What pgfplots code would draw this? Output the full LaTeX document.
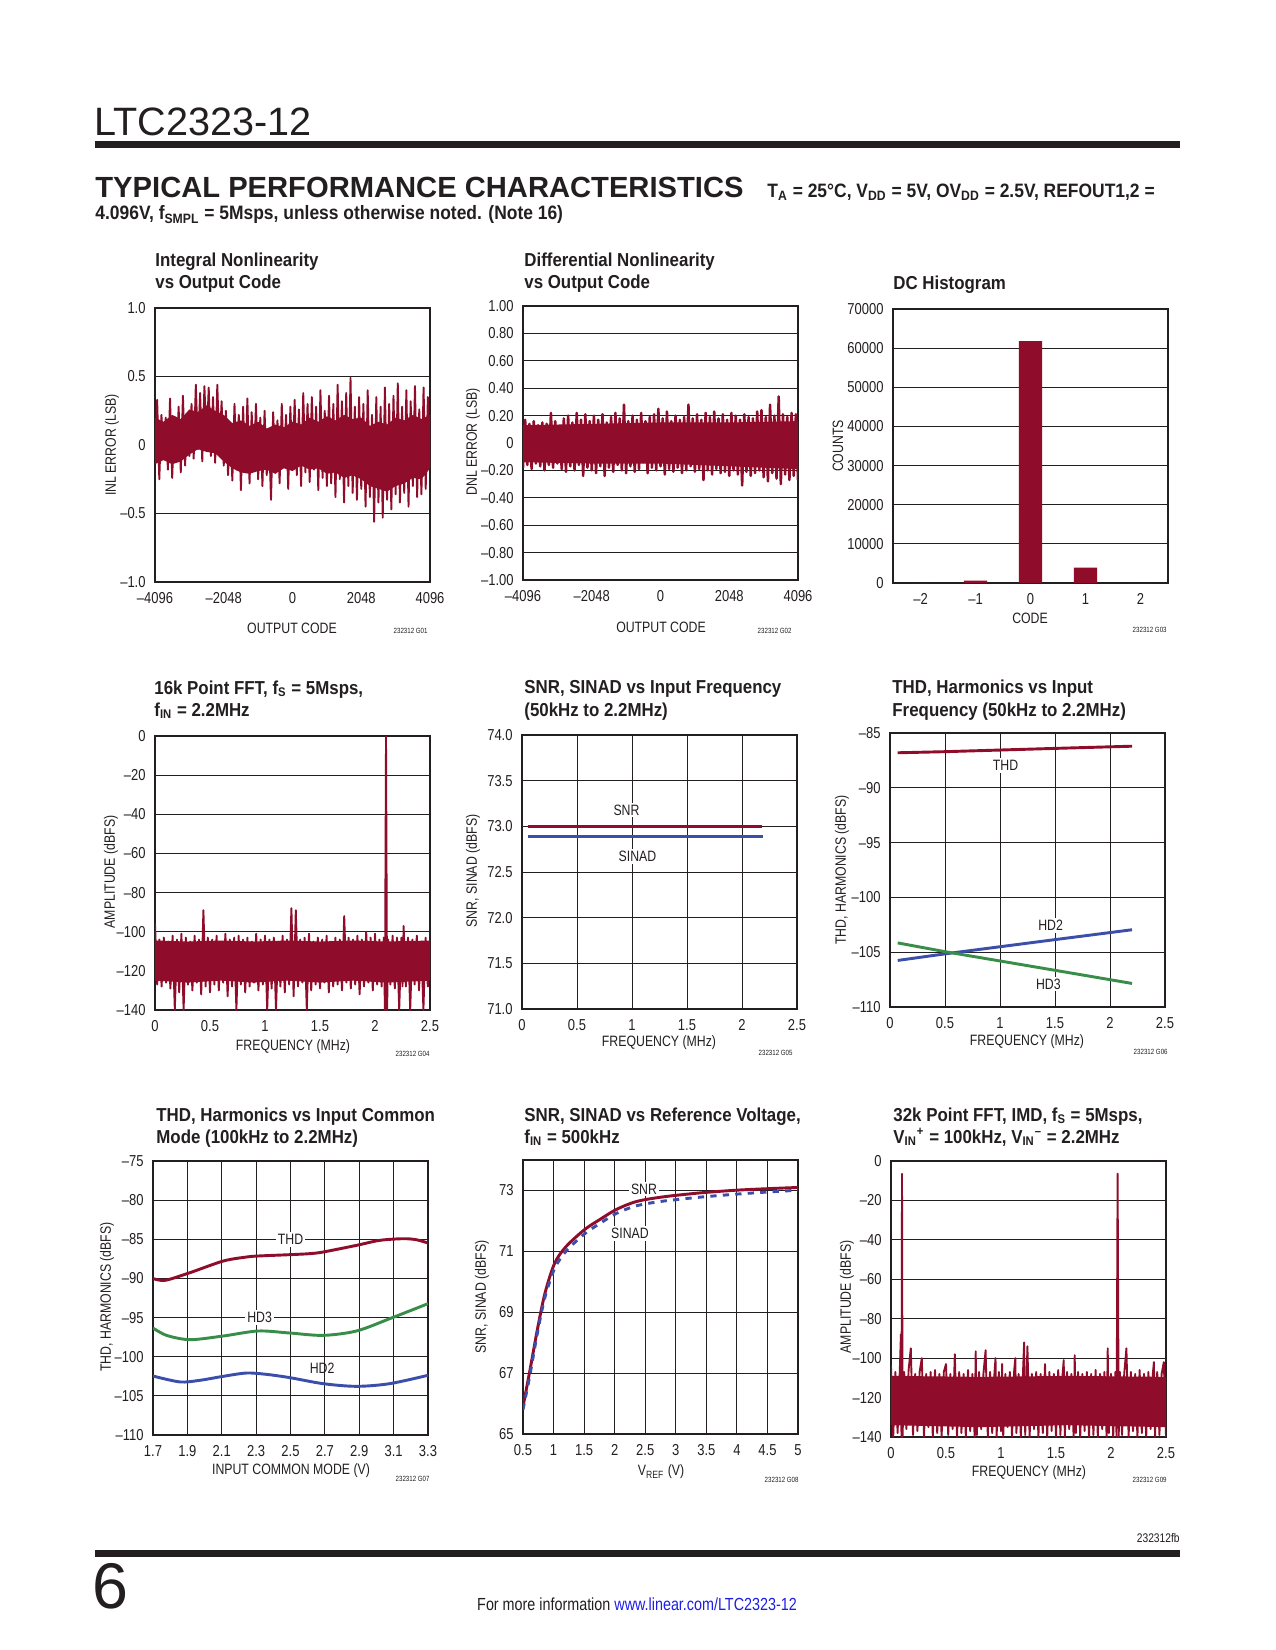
\documentclass[border=0pt]{standalone}
\usepackage{pgfplots}
\pgfplotsset{compat=1.18}
\usepackage{fontspec}
\setmainfont{Liberation Sans}[FakeStretch=0.82]
\newfontfamily\tfam{Liberation Sans}[FakeStretch=0.9]
\newfontfamily\pfam{Liberation Sans}
\newfontfamily\hfam{Liberation Sans}[FakeStretch=1.0]
\newcommand\ttlf{\tfam\bfseries\fontsize{9}{11}\selectfont}
\newcommand\labf{\fontsize{7.2}{9}\selectfont}
\newcommand\tickf{\fontsize{7.6}{9}\selectfont}
\newcommand\gf{\fontsize{3.6}{4}\selectfont}
\definecolor{ltred}{RGB}{143,12,42}
\definecolor{ltblue}{RGB}{58,78,170}
\definecolor{ltgreen}{RGB}{56,142,72}
\definecolor{txt}{RGB}{35,31,32}
\definecolor{link}{RGB}{30,30,230}
\pgfplotsset{
 dsaxis/.style={scale only axis, width=132pt, height=131.5pt, anchor=south west,
  axis line style={line width=0.7pt, color=txt},
  major tick length=0pt, tick style={draw=none},
  major grid style={line width=0.45pt, color=txt},
  tick label style={font=\tickf, text=txt},
  /pgf/number format/assume math mode=true,
  xticklabel style={yshift=-1.5pt}, yticklabel style={xshift=-1pt},
  scaled x ticks=false, scaled y ticks=false},
}
\tikzset{
 ttl/.style={anchor=base west, inner sep=0pt, font=\ttlf, text=txt},
 lab/.style={inner sep=0pt, font=\labf, text=txt},
 gnum/.style={anchor=base east, inner sep=0pt, font=\gf, text=txt},
 clab/.style={fill=white, inner sep=1pt, font=\labf, text=txt},
}
\begin{document}
\begin{tikzpicture}
\begin{scope}[x=0.48pt, y=-0.48pt]
\path[use as bounding box, fill=white] (0,0) rectangle (1275,1650);
% header
\node[anchor=base west, inner sep=0pt, font=\pfam\fontsize{19}{22}\selectfont, text=txt] at (94,136) {LTC2323-12};
\fill[txt] (95,141) rectangle (1180,148);
\node[anchor=base west, inner sep=0pt, font=\hfam\bfseries\fontsize{14}{16}\selectfont, text=txt] at (95,198) {TYPICAL PERFORMANCE CHARACTERISTICS};
\node[anchor=base west, inner sep=0pt, font=\tfam\bfseries\fontsize{9.3}{11}\selectfont, text=txt] at (767,198) {T\textsubscript{A} = 25°C, V\textsubscript{DD} = 5V, OV\textsubscript{DD} = 2.5V, REFOUT1,2 =};
\node[anchor=base west, inner sep=0pt, font=\tfam\bfseries\fontsize{9.3}{11}\selectfont, text=txt] at (95,220) {4.096V, f\textsubscript{SMPL} = 5Msps, unless otherwise noted. (Note 16)};
% footer
\node[anchor=base east, inner sep=0pt, font=\fontsize{6}{7}\selectfont, text=txt] at (1180,1542) {232312fb};
\fill[txt] (95,1550) rectangle (1180,1557);
\node[anchor=base west, inner sep=0pt, font=\pfam\fontsize{31}{34}\selectfont, text=txt] at (92,1608) {6};
\node[anchor=base, inner sep=0pt, font=\fontsize{8.4}{10}\selectfont, text=txt] at (637,1610) {For more information \textcolor{link}{www.linear.com/LTC2323-12}};
% titles
\node[ttl] at (155,267) {Integral Nonlinearity};
\node[ttl] at (155,289) {vs Output Code};
\node[ttl] at (524,267) {Differential Nonlinearity};
\node[ttl] at (524,289) {vs Output Code};
\node[ttl] at (893,290) {DC Histogram};
\node[ttl] at (154,694) {16k Point FFT, f\textsubscript{S} = 5Msps,};
\node[ttl] at (154,716) {f\textsubscript{IN} = 2.2MHz};
\node[ttl] at (524,693) {SNR, SINAD vs Input Frequency};
\node[ttl] at (524,716) {(50kHz to 2.2MHz)};
\node[ttl] at (892,693) {THD, Harmonics vs Input};
\node[ttl] at (892,716) {Frequency (50kHz to 2.2MHz)};
\node[ttl] at (156,1121) {THD, Harmonics vs Input Common};
\node[ttl] at (156,1143) {Mode (100kHz to 2.2MHz)};
\node[ttl] at (524,1121) {SNR, SINAD vs Reference Voltage,};
\node[ttl] at (524,1143) {f\textsubscript{IN} = 500kHz};
\node[ttl] at (893,1121) {32k Point FFT, IMD, f\textsubscript{S} = 5Msps,};
\node[ttl] at (893,1143) {V\textsubscript{IN}\textsuperscript{+} = 100kHz, V\textsubscript{IN}\textsuperscript{–} = 2.2MHz};
% axis labels
\node[lab] at (292,628) {OUTPUT CODE};
\node[lab, rotate=90] at (112,445) {INL ERROR (LSB)};
\node[gnum] at (428,633) {232312 G01};
\node[lab] at (661,627) {OUTPUT CODE};
\node[lab, rotate=90] at (473,442) {DNL ERROR (LSB)};
\node[gnum] at (792,633) {232312 G02};
\node[lab] at (1030,618) {CODE};
\node[lab, rotate=90] at (838,446) {COUNTS};
\node[gnum] at (1167,632) {232312 G03};
\node[lab] at (293,1047) {FREQUENCY (MHz)};
\node[lab, rotate=90] at (111,872) {AMPLITUDE (dBFS)};
\node[gnum] at (430,1056) {232312 G04};
\node[lab] at (659,1043) {FREQUENCY (MHz)};
\node[lab, rotate=90] at (473,871) {SNR, SINAD (dBFS)};
\node[gnum] at (793,1055) {232312 G05};
\node[lab] at (1027,1042) {FREQUENCY (MHz)};
\node[lab, rotate=90] at (842,870) {THD, HARMONICS (dBFS)};
\node[gnum] at (1168,1054) {232312 G06};
\node[lab] at (291,1471) {INPUT COMMON MODE (V)};
\node[lab, rotate=90] at (107,1297) {THD, HARMONICS (dBFS)};
\node[gnum] at (430,1481) {232312 G07};
\node[lab] at (661,1472) {V\textsubscript{REF} (V)};
\node[lab, rotate=90] at (482,1297) {SNR, SINAD (dBFS)};
\node[gnum] at (799,1482) {232312 G08};
\node[lab] at (1029,1473) {FREQUENCY (MHz)};
\node[lab, rotate=90] at (847,1297) {AMPLITUDE (dBFS)};
\node[gnum] at (1167,1482) {232312 G09};
\end{scope}

% ---------- G01 INL ----------
\begin{axis}[dsaxis, at={(155*0.48pt,-582*0.48pt)},
 xmin=-4096, xmax=4096, ymin=-1, ymax=1,
 xtick={-4096,-2048,0,2048,4096}, xticklabels={–4096,–2048,0,2048,4096},
 ytick={-1,-0.5,0,0.5,1}, yticklabels={–1.0,–0.5,0,0.5,1.0}, ymajorgrids]
\addplot[fill=ltred, draw=none] coordinates {(-4096,0.2) (-3840,0.17) (-3584,0.22) (-3328,0.19) (-3072,0.26) (-2816,0.24) (-2560,0.29) (-2304,0.25) (-2048,0.22) (-1792,0.16) (-1536,0.18) (-1280,0.14) (-1024,0.17) (-768,0.12) (-512,0.15) (-256,0.13) (0,0.17) (256,0.15) (512,0.2) (768,0.17) (1024,0.21) (1280,0.18) (1536,0.22) (1792,0.19) (2048,0.2) (2304,0.14) (2560,0.17) (2816,0.15) (3072,0.2) (3328,0.18) (3584,0.22) (3840,0.19) (4096,0.22)
 (4096,-0.17) (3840,-0.25) (3584,-0.24) (3328,-0.28) (3072,-0.3) (2816,-0.34) (2560,-0.32) (2304,-0.3) (2048,-0.25) (1792,-0.22) (1536,-0.24) (1280,-0.2) (1024,-0.21) (768,-0.17) (512,-0.18) (256,-0.15) (0,-0.19) (-256,-0.17) (-512,-0.21) (-768,-0.18) (-1024,-0.19) (-1280,-0.21) (-1536,-0.2) (-1792,-0.17) (-2048,-0.12) (-2304,-0.06) (-2560,-0.05) (-2816,-0.03) (-3072,-0.07) (-3328,-0.12) (-3584,-0.14) (-3840,-0.11) (-4096,-0.14)};
\addplot[ltred, line width=0.9pt, line join=round] table[row sep=\\]{x y\\
-4096 -0.12\\ -4032 0.33\\ -3968 -0.25\\ -3904 0.22\\ -3840 -0.10\\ -3776 0.20\\ -3712 -0.18\\ -3648 0.34\\
-3584 -0.24\\ -3520 0.18\\ -3456 -0.12\\ -3392 0.28\\ -3328 -0.20\\ -3264 0.36\\ -3200 -0.15\\ -3136 0.22\\
-3072 -0.08\\ -3008 0.30\\ -2944 -0.10\\ -2880 0.44\\ -2816 -0.03\\ -2752 0.38\\ -2688 -0.12\\ -2624 0.43\\
-2560 0.00\\ -2496 0.42\\ -2432 -0.08\\ -2368 0.35\\ -2304 -0.13\\ -2240 0.44\\ -2176 -0.05\\ -2112 0.32\\
-2048 -0.15\\ -1984 0.25\\ -1920 -0.22\\ -1856 0.15\\ -1792 -0.26\\ -1728 0.30\\ -1664 -0.18\\ -1600 0.22\\
-1536 -0.33\\ -1472 0.28\\ -1408 -0.20\\ -1344 0.34\\ -1280 -0.28\\ -1216 0.24\\ -1152 -0.17\\ -1088 0.30\\
-1024 -0.25\\ -960 0.20\\ -896 -0.30\\ -832 0.25\\ -768 -0.22\\ -704 0.10\\ -640 -0.40\\ -576 0.24\\
-512 -0.20\\ -448 0.18\\ -384 -0.28\\ -320 0.30\\ -256 -0.15\\ -192 0.22\\ -128 -0.32\\ -64 0.28\\
0 -0.18\\ 64 0.33\\ 128 -0.22\\ 192 0.26\\ 256 -0.30\\ 320 0.38\\ 384 -0.20\\ 448 0.30\\
512 -0.27\\ 576 0.35\\ 640 -0.18\\ 704 0.28\\ 768 -0.33\\ 832 0.40\\ 896 -0.24\\ 960 0.25\\
1024 -0.30\\ 1088 0.36\\ 1152 -0.28\\ 1216 0.30\\ 1280 -0.38\\ 1344 0.44\\ 1408 -0.25\\ 1472 0.32\\
1536 -0.42\\ 1600 0.38\\ 1664 -0.30\\ 1728 0.49\\ 1792 -0.35\\ 1856 0.28\\ 1920 -0.40\\ 1984 0.35\\
2048 -0.32\\ 2112 0.30\\ 2176 -0.45\\ 2240 0.40\\ 2304 -0.38\\ 2368 0.22\\ 2432 -0.56\\ 2496 0.35\\
2560 -0.42\\ 2624 0.28\\ 2688 -0.53\\ 2752 0.42\\ 2816 -0.40\\ 2880 0.30\\ 2944 -0.47\\ 3008 0.36\\
3072 -0.36\\ 3136 0.45\\ 3200 -0.42\\ 3264 0.28\\ 3328 -0.35\\ 3392 0.40\\ 3456 -0.45\\ 3520 0.32\\
3584 -0.30\\ 3648 0.43\\ 3712 -0.38\\ 3776 0.26\\ 3840 -0.36\\ 3904 0.42\\ 3968 -0.32\\ 4032 0.35\\
4096 -0.10\\};
\end{axis}

% ---------- G02 DNL ----------
\begin{axis}[dsaxis, at={(523*0.48pt,-580*0.48pt)},
 xmin=-4096, xmax=4096, ymin=-1, ymax=1,
 xtick={-4096,-2048,0,2048,4096}, xticklabels={–4096,–2048,0,2048,4096},
 ytick={-1,-0.8,-0.6,-0.4,-0.2,0,0.2,0.4,0.6,0.8,1},
 yticklabels={–1.00,–0.80,–0.60,–0.40,–0.20,0,0.20,0.40,0.60,0.80,1.00}, ymajorgrids]
\addplot[fill=ltred, draw=none] coordinates {(-4096,0.13) (-2048,0.14) (0,0.15) (2048,0.15) (4096,0.16) (4096,-0.19) (3072,-0.18) (2048,-0.17) (0,-0.15) (-2048,-0.15) (-4096,-0.14)};
\addplot[ltred, line width=1.2pt, line join=round] table[row sep=\\]{x y\\
-4096 -0.18\\ -4032 0.17\\ -3968 -0.16\\ -3904 0.14\\ -3840 -0.19\\ -3776 0.16\\ -3712 -0.15\\ -3648 0.13\\
-3584 -0.17\\ -3520 0.15\\ -3456 -0.20\\ -3392 0.14\\ -3328 -0.16\\ -3264 0.22\\ -3200 -0.18\\ -3136 0.16\\
-3072 -0.15\\ -3008 0.12\\ -2944 -0.19\\ -2880 0.18\\ -2816 -0.21\\ -2752 0.20\\ -2688 -0.17\\ -2624 0.15\\
-2560 -0.20\\ -2496 0.22\\ -2432 -0.16\\ -2368 0.17\\ -2304 -0.24\\ -2240 0.21\\ -2176 -0.18\\ -2112 0.16\\
-2048 -0.20\\ -1984 0.20\\ -1920 -0.22\\ -1856 0.17\\ -1792 -0.17\\ -1728 0.21\\ -1664 -0.24\\ -1600 0.15\\
-1536 -0.18\\ -1472 0.19\\ -1408 -0.21\\ -1344 0.22\\ -1280 -0.16\\ -1216 0.18\\ -1152 -0.20\\ -1088 0.28\\
-1024 -0.22\\ -960 0.16\\ -896 -0.17\\ -832 0.20\\ -768 -0.21\\ -704 0.17\\ -640 -0.19\\ -576 0.22\\
-512 -0.14\\ -448 0.16\\ -384 -0.22\\ -320 0.19\\ -256 -0.18\\ -192 0.21\\ -128 -0.20\\ -64 0.25\\
0 -0.17\\ 64 0.18\\ 128 -0.23\\ 192 0.23\\ 256 -0.19\\ 320 0.16\\ 384 -0.21\\ 448 0.20\\
512 -0.18\\ 576 0.17\\ 640 -0.22\\ 704 0.19\\ 768 -0.20\\ 832 0.28\\ 896 -0.17\\ 960 0.18\\
1024 -0.21\\ 1088 0.21\\ 1152 -0.19\\ 1216 0.17\\ 1280 -0.27\\ 1344 0.22\\ 1408 -0.20\\ 1472 0.19\\
1536 -0.23\\ 1600 0.23\\ 1664 -0.19\\ 1728 0.18\\ 1792 -0.22\\ 1856 0.21\\ 1920 -0.21\\ 1984 0.17\\
2048 -0.24\\ 2112 0.22\\ 2176 -0.20\\ 2240 0.20\\ 2304 -0.23\\ 2368 0.17\\ 2432 -0.31\\ 2496 0.21\\
2560 -0.21\\ 2624 0.19\\ 2688 -0.24\\ 2752 0.18\\ 2816 -0.22\\ 2880 0.23\\ 2944 -0.20\\ 3008 0.24\\
3072 -0.25\\ 3136 0.19\\ 3200 -0.28\\ 3264 0.28\\ 3328 -0.22\\ 3392 0.20\\ 3456 -0.26\\ 3520 0.34\\
3584 -0.30\\ 3648 0.21\\ 3712 -0.23\\ 3776 0.19\\ 3840 -0.27\\ 3904 0.22\\ 3968 -0.24\\ 4032 0.21\\
4096 -0.27\\};
\end{axis}

% ---------- G03 histogram ----------
\begin{axis}[dsaxis, at={(893*0.48pt,-583*0.48pt)}, axis line style={line width=1pt, color=txt},
 xmin=-2.5, xmax=2.5, ymin=0, ymax=70000,
 xtick={-2,-1,0,1,2}, xticklabels={–2,–1,0,1,2},
 ytick={0,10000,20000,30000,40000,50000,60000,70000},
 yticklabels={0,10000,20000,30000,40000,50000,60000,70000}, ymajorgrids]
\addplot[ybar, bar width=0.42, fill=ltred, draw=none] coordinates {(-2,0) (-1,600) (0,61800) (1,3900) (2,0)};
\end{axis}

% ---------- G04 FFT 16k ----------
\begin{axis}[dsaxis, at={(155*0.48pt,-1010*0.48pt)},
 xmin=0, xmax=2.5, ymin=-140, ymax=0,
 xtick={0,0.5,1,1.5,2,2.5}, xticklabels={0,0.5,1,1.5,2,2.5},
 ytick={-140,-120,-100,-80,-60,-40,-20,0}, yticklabels={–140,–120,–100,–80,–60,–40,–20,0}, ymajorgrids]
\addplot[fill=ltred, draw=none] coordinates {(0,-104.5) (0.3,-105) (0.6,-104.5) (0.9,-105) (1.2,-104.5) (1.5,-105) (1.8,-104.5) (2.1,-105) (2.5,-104.5) (2.5,-125) (2.1,-126) (1.8,-125) (1.5,-126) (1.2,-125) (0.9,-126) (0.6,-125) (0.3,-126) (0,-125)};
\addplot[ltred, line width=0.9pt, line join=round] table[row sep=\\]{x y\\
0.00 -96\\ 0.02 -127\\ 0.04 -104\\ 0.06 -128\\ 0.08 -103\\ 0.10 -126\\ 0.12 -105\\ 0.14 -129\\
0.16 -102\\ 0.18 -140\\ 0.20 -104\\ 0.22 -131\\ 0.24 -101\\ 0.26 -140\\ 0.28 -103\\ 0.30 -127\\
0.32 -105\\ 0.34 -130\\ 0.36 -102\\ 0.38 -126\\ 0.40 -104\\ 0.42 -132\\ 0.44 -89\\ 0.46 -128\\
0.48 -103\\ 0.50 -131\\ 0.52 -104\\ 0.54 -127\\ 0.56 -102\\ 0.58 -130\\ 0.60 -105\\ 0.62 -126\\
0.64 -101\\ 0.66 -133\\ 0.68 -104\\ 0.70 -128\\ 0.72 -103\\ 0.74 -140\\ 0.76 -102\\ 0.78 -127\\
0.80 -104\\ 0.82 -131\\ 0.84 -103\\ 0.86 -128\\ 0.88 -105\\ 0.90 -126\\ 0.92 -101\\ 0.94 -130\\
0.96 -104\\ 0.98 -127\\ 1.00 -102\\ 1.02 -140\\ 1.04 -104\\ 1.06 -129\\ 1.08 -103\\ 1.10 -140\\
1.12 -105\\ 1.14 -128\\ 1.16 -102\\ 1.18 -131\\ 1.20 -104\\ 1.22 -127\\ 1.24 -88\\ 1.26 -133\\
1.28 -89\\ 1.30 -128\\ 1.32 -104\\ 1.34 -126\\ 1.36 -103\\ 1.38 -140\\ 1.40 -101\\ 1.42 -130\\
1.44 -105\\ 1.46 -127\\ 1.48 -103\\ 1.50 -129\\ 1.52 -104\\ 1.54 -126\\ 1.56 -102\\ 1.58 -131\\
1.60 -105\\ 1.62 -128\\ 1.64 -103\\ 1.66 -127\\ 1.68 -104\\ 1.70 -130\\ 1.72 -92\\ 1.74 -126\\
1.76 -103\\ 1.78 -129\\ 1.80 -104\\ 1.82 -127\\ 1.84 -102\\ 1.86 -132\\ 1.88 -104\\ 1.90 -128\\
1.92 -100\\ 1.94 -126\\ 1.96 -103\\ 1.98 -130\\ 2.00 -101\\ 2.02 -127\\ 2.04 -104\\ 2.06 -128\\
2.08 -103\\ 2.09 -140\\ 2.10 0\\ 2.11 -140\\ 2.12 -104\\ 2.14 -127\\ 2.16 -102\\ 2.18 -129\\
2.20 -103\\ 2.22 -140\\ 2.24 -103\\ 2.25 -128\\ 2.26 -97\\ 2.28 -128\\ 2.30 -103\\ 2.32 -140\\
2.34 -104\\ 2.36 -127\\ 2.38 -102\\ 2.40 -130\\ 2.42 -105\\ 2.44 -140\\ 2.46 -103\\ 2.48 -128\\
2.50 -104\\};
\end{axis}

% ---------- G05 SNR SINAD vs freq ----------
\begin{axis}[dsaxis, at={(522*0.48pt,-1009*0.48pt)},
 xmin=0, xmax=2.5, ymin=71, ymax=74,
 xtick={0,0.5,1,1.5,2,2.5}, xticklabels={0,0.5,1,1.5,2,2.5},
 ytick={71,71.5,72,72.5,73,73.5,74}, yticklabels={71.0,71.5,72.0,72.5,73.0,73.5,74.0},
 xmajorgrids, ymajorgrids]
\addplot[ltred, line width=1.4pt] coordinates {(0.05,73.0) (0.5,73.0) (1,73.0) (1.5,73.0) (2.18,73.0)};
\addplot[ltblue, line width=1.4pt] coordinates {(0.05,72.89) (0.5,72.89) (1,72.89) (1.5,72.89) (2.19,72.89)};
\node[clab] at (axis cs:0.95,73.18) {SNR};
\node[clab] at (axis cs:1.05,72.67) {SINAD};
\end{axis}

% ---------- G06 THD harmonics vs freq ----------
\begin{axis}[dsaxis, at={(890*0.48pt,-1007*0.48pt)},
 xmin=0, xmax=2.5, ymin=-110, ymax=-85,
 xtick={0,0.5,1,1.5,2,2.5}, xticklabels={0,0.5,1,1.5,2,2.5},
 ytick={-110,-105,-100,-95,-90,-85}, yticklabels={–110,–105,–100,–95,–90,–85},
 xmajorgrids, ymajorgrids]
\addplot[ltred, line width=1.4pt] coordinates {(0.07,-86.8) (0.5,-86.7) (1,-86.55) (1.5,-86.4) (2.2,-86.2)};
\addplot[ltblue, line width=1.4pt] coordinates {(0.07,-105.75) (0.5,-105.15) (1,-104.5) (1.5,-103.85) (2.2,-102.95)};
\addplot[ltgreen, line width=1.4pt] coordinates {(0.07,-104.15) (0.5,-104.95) (1,-105.8) (1.5,-106.65) (2.2,-107.85)};
\node[clab] at (axis cs:1.05,-87.94) {THD};
\node[clab] at (axis cs:1.46,-102.57) {HD2};
\node[clab] at (axis cs:1.44,-107.9) {HD3};
\end{axis}

% ---------- G07 THD vs common mode ----------
\begin{axis}[dsaxis, at={(153*0.48pt,-1435*0.48pt)},
 xmin=1.7, xmax=3.3, ymin=-110, ymax=-75,
 xtick={1.7,1.9,2.1,2.3,2.5,2.7,2.9,3.1,3.3}, xticklabels={1.7,1.9,2.1,2.3,2.5,2.7,2.9,3.1,3.3},
 ytick={-110,-105,-100,-95,-90,-85,-80,-75}, yticklabels={–110,–105,–100,–95,–90,–85,–80,–75},
 xmajorgrids, ymajorgrids]
\addplot[ltred, line width=1.4pt, smooth] coordinates {(1.7,-90.0) (1.77,-90.24) (1.915,-89.26) (2.109,-87.77) (2.244,-87.26) (2.312,-87.13) (2.496,-86.96) (2.612,-86.83) (2.69,-86.62) (2.884,-85.77) (3.019,-85.13) (3.155,-84.92) (3.232,-85.05) (3.3,-85.47)};
\addplot[ltgreen, line width=1.4pt, smooth] coordinates {(1.7,-96.33) (1.779,-97.27) (1.915,-97.82) (2.109,-97.35) (2.312,-96.71) (2.496,-96.97) (2.69,-97.27) (2.884,-96.71) (3.077,-95.14) (3.3,-93.22)};
\addplot[ltblue, line width=1.4pt, smooth] coordinates {(1.7,-102.46) (1.857,-103.22) (1.973,-103.01) (2.109,-102.5) (2.244,-102.08) (2.36,-102.25) (2.496,-102.67) (2.69,-103.44) (2.884,-103.78) (3.077,-103.44) (3.3,-102.37)};
\node[clab] at (axis cs:2.50,-85.0) {THD};
\node[clab] at (axis cs:2.32,-95.0) {HD3};
\node[lab] at (axis cs:2.684,-101.44) {HD2};
\end{axis}

% ---------- G08 SNR SINAD vs Vref ----------
\begin{axis}[dsaxis, at={(523*0.48pt,-1434*0.48pt)},
 xmin=0.5, xmax=5, ymin=65, ymax=74,
 xtick={0.5,1,1.5,2,2.5,3,3.5,4,4.5,5}, xticklabels={0.5,1,1.5,2,2.5,3,3.5,4,4.5,5},
 ytick={65,67,69,71,73}, yticklabels={65,67,69,71,73},
 xmajorgrids, ymajorgrids]
\addplot[ltred, line width=1.4pt, smooth] coordinates {(0.5,65.9) (0.614,67.1) (0.734,68.42) (0.86,69.63) (1.02,70.62) (1.21,71.17) (1.51,71.72) (1.76,72.05) (2.03,72.38) (2.36,72.64) (2.79,72.79) (3.39,72.92) (3.99,73.01) (4.5,73.06) (5.0,73.1)};
\addplot[ltblue, line width=1.4pt, dashed, smooth] coordinates {(0.5,65.8) (0.614,66.95) (0.734,68.3) (0.86,69.5) (1.02,70.45) (1.21,71.02) (1.51,71.58) (1.76,71.92) (2.03,72.25) (2.36,72.5) (2.79,72.65) (3.39,72.78) (3.99,72.88) (4.5,72.95) (5.0,73.01)};
\node[clab] at (axis cs:2.48,73.05) {SNR};
\node[clab] at (axis cs:2.25,71.6) {SINAD};
\end{axis}

% ---------- G09 FFT IMD ----------
\begin{axis}[dsaxis, at={(891*0.48pt,-1437*0.48pt)}, height=132.5pt,
 xmin=0, xmax=2.5, ymin=-140, ymax=0,
 xtick={0,0.5,1,1.5,2,2.5}, xticklabels={0,0.5,1,1.5,2,2.5},
 ytick={-140,-120,-100,-80,-60,-40,-20,0}, yticklabels={–140,–120,–100,–80,–60,–40,–20,0}, ymajorgrids]
\addplot[fill=ltred, draw=none] coordinates {(0,-109) (0.8,-109.5) (1.6,-109) (2.5,-109.5) (2.5,-135) (1.6,-134) (0.8,-135) (0,-134)};
\addplot[ltred, line width=0.9pt, line join=round] table[row sep=\\]{x y\\
0.00 -104\\ 0.02 -140\\ 0.04 -107\\ 0.06 -138\\ 0.08 -106\\ 0.09 -88\\ 0.095 -140\\ 0.10 -6.5\\
0.105 -140\\ 0.12 -107\\ 0.14 -136\\ 0.16 -106\\ 0.18 -95\\ 0.20 -139\\ 0.22 -108\\ 0.24 -137\\
0.26 -107\\ 0.28 -100\\ 0.30 -140\\ 0.32 -108\\ 0.34 -135\\ 0.36 -107\\ 0.38 -140\\ 0.40 -106\\
0.42 -138\\ 0.44 -108\\ 0.46 -140\\ 0.48 -107\\ 0.50 -103\\ 0.52 -139\\ 0.54 -108\\ 0.56 -136\\
0.58 -98\\ 0.60 -140\\ 0.62 -107\\ 0.64 -138\\ 0.66 -108\\ 0.68 -140\\ 0.70 -106\\ 0.72 -137\\
0.74 -108\\ 0.76 -140\\ 0.77 -96.5\\ 0.78 -139\\ 0.80 -107\\ 0.82 -136\\ 0.84 -108\\ 0.86 -96\\
0.88 -140\\ 0.90 -107\\ 0.92 -138\\ 0.94 -108\\ 0.95 -100\\ 0.96 -140\\ 0.98 -107\\ 1.00 -137\\
1.01 -103\\ 1.02 -140\\ 1.04 -108\\ 1.06 -135\\ 1.08 -107\\ 1.10 -140\\ 1.12 -106\\ 1.13 -100\\
1.14 -138\\ 1.16 -108\\ 1.18 -140\\ 1.20 -107\\ 1.21 -92\\ 1.22 -139\\ 1.24 -94\\ 1.26 -140\\
1.28 -108\\ 1.30 -136\\ 1.32 -107\\ 1.34 -140\\ 1.36 -108\\ 1.38 -138\\ 1.40 -103\\ 1.42 -140\\
1.44 -107\\ 1.46 -137\\ 1.48 -108\\ 1.50 -140\\ 1.52 -106\\ 1.54 -139\\ 1.56 -108\\ 1.57 -101\\
1.58 -140\\ 1.60 -107\\ 1.62 -136\\ 1.64 -108\\ 1.66 -140\\ 1.67 -98.5\\ 1.68 -138\\ 1.70 -107\\
1.72 -140\\ 1.74 -108\\ 1.76 -137\\ 1.78 -107\\ 1.80 -140\\ 1.82 -108\\ 1.84 -139\\ 1.86 -106\\
1.88 -140\\ 1.90 -108\\ 1.92 -136\\ 1.94 -107\\ 1.96 -140\\ 1.97 -95\\ 1.98 -138\\ 2.00 -108\\
2.02 -140\\ 2.04 -107\\ 2.05 -140\\ 2.06 -6.5\\ 2.07 -140\\ 2.08 -107\\ 2.10 -139\\ 2.12 -108\\
2.14 -95\\ 2.16 -140\\ 2.18 -107\\ 2.20 -137\\ 2.22 -108\\ 2.24 -140\\ 2.26 -106\\ 2.28 -138\\
2.30 -108\\ 2.32 -140\\ 2.34 -107\\ 2.36 -136\\ 2.38 -108\\ 2.39 -102\\ 2.40 -140\\ 2.42 -107\\
2.44 -139\\ 2.46 -108\\ 2.48 -102\\ 2.50 -140\\};
\end{axis}
\end{tikzpicture}
\end{document}
